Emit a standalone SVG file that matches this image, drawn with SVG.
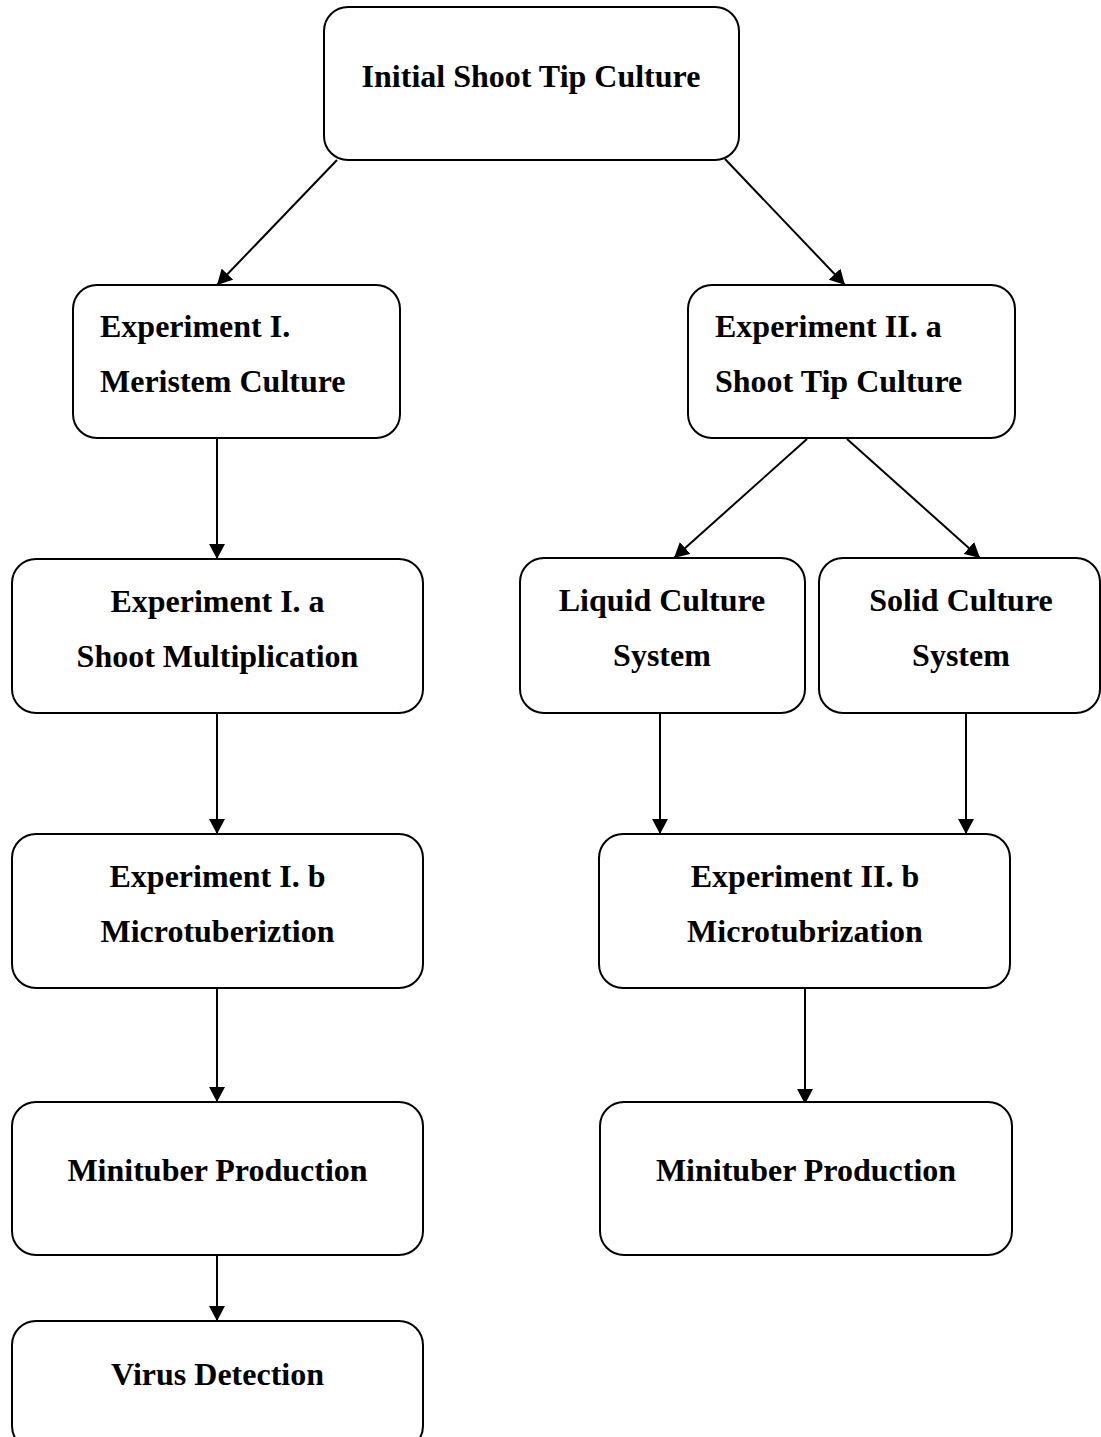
<svg xmlns="http://www.w3.org/2000/svg" width="1101" height="1437" viewBox="0 0 1101 1437">
  <style>
    .box { fill: #ffffff; stroke: #000000; stroke-width: 2; }
    .lbl { font-family: "Liberation Serif", "Times New Roman", serif; font-weight: bold; font-size: 32px; fill: #000000; }
    .c { text-anchor: middle; }
    .conn { stroke: #000000; stroke-width: 2; fill: none; marker-end: url(#arrow); }
  </style>
  <defs>
    <marker id="arrow" viewBox="0 0 15 16" refX="15" refY="8" markerWidth="15" markerHeight="16" markerUnits="userSpaceOnUse" orient="auto">
      <path d="M0,0 L15,8 L0,16 z" fill="#000000"/>
    </marker>
  </defs>
  <rect width="1101" height="1437" fill="#ffffff"/>

  <g id="connectors">
    <line class="conn" x1="337" y1="160" x2="217" y2="285"/>
    <line class="conn" x1="725" y1="159" x2="845" y2="285"/>
    <line class="conn" x1="217" y1="438" x2="217" y2="559"/>
    <line class="conn" x1="807" y1="439" x2="674" y2="558"/>
    <line class="conn" x1="847" y1="439" x2="980" y2="558"/>
    <line class="conn" x1="217" y1="713" x2="217" y2="834"/>
    <line class="conn" x1="660" y1="713" x2="660" y2="834"/>
    <line class="conn" x1="966" y1="713" x2="966" y2="834"/>
    <line class="conn" x1="217" y1="988" x2="217" y2="1102"/>
    <line class="conn" x1="805" y1="988" x2="805" y2="1104"/>
    <line class="conn" x1="217" y1="1255" x2="217" y2="1321"/>
  </g>

  <g id="n-initial">
    <rect class="box" x="324" y="7" width="415" height="153" rx="24" ry="24"/>
    <text class="lbl c" x="531" y="87">Initial Shoot Tip Culture</text>
  </g>

  <g id="n-exp1">
    <rect class="box" x="73" y="285" width="327" height="153" rx="24" ry="24"/>
    <text class="lbl" x="100" y="337">Experiment I.</text>
    <text class="lbl" x="100" y="392">Meristem Culture</text>
  </g>

  <g id="n-exp2a">
    <rect class="box" x="688" y="285" width="327" height="153" rx="24" ry="24"/>
    <text class="lbl" x="715" y="337">Experiment II. a</text>
    <text class="lbl" x="715" y="392">Shoot Tip Culture</text>
  </g>

  <g id="n-exp1a">
    <rect class="box" x="12" y="559" width="411" height="154" rx="24" ry="24"/>
    <text class="lbl c" x="217.5" y="612">Experiment I. a</text>
    <text class="lbl c" x="217.5" y="667">Shoot Multiplication</text>
  </g>

  <g id="n-liquid">
    <rect class="box" x="520" y="558" width="285" height="155" rx="24" ry="24"/>
    <text class="lbl c" x="662" y="611">Liquid Culture</text>
    <text class="lbl c" x="662" y="666">System</text>
  </g>

  <g id="n-solid">
    <rect class="box" x="819" y="558" width="281" height="155" rx="24" ry="24"/>
    <text class="lbl c" x="961" y="611">Solid Culture</text>
    <text class="lbl c" x="961" y="666">System</text>
  </g>

  <g id="n-exp1b">
    <rect class="box" x="12" y="834" width="411" height="154" rx="24" ry="24"/>
    <text class="lbl c" x="217.5" y="887">Experiment I. b</text>
    <text class="lbl c" x="217.5" y="942">Microtuberiztion</text>
  </g>

  <g id="n-exp2b">
    <rect class="box" x="599" y="834" width="411" height="154" rx="24" ry="24"/>
    <text class="lbl c" x="805" y="887">Experiment II. b</text>
    <text class="lbl c" x="805" y="942">Microtubrization</text>
  </g>

  <g id="n-mini1">
    <rect class="box" x="12" y="1102" width="411" height="153" rx="24" ry="24"/>
    <text class="lbl c" x="217.5" y="1181">Minituber Production</text>
  </g>

  <g id="n-mini2">
    <rect class="box" x="600" y="1102" width="412" height="153" rx="24" ry="24"/>
    <text class="lbl c" x="806" y="1181">Minituber Production</text>
  </g>

  <g id="n-virus">
    <rect class="box" x="12" y="1321" width="411" height="129" rx="24" ry="24"/>
    <text class="lbl c" x="217.5" y="1385">Virus Detection</text>
  </g>
</svg>
